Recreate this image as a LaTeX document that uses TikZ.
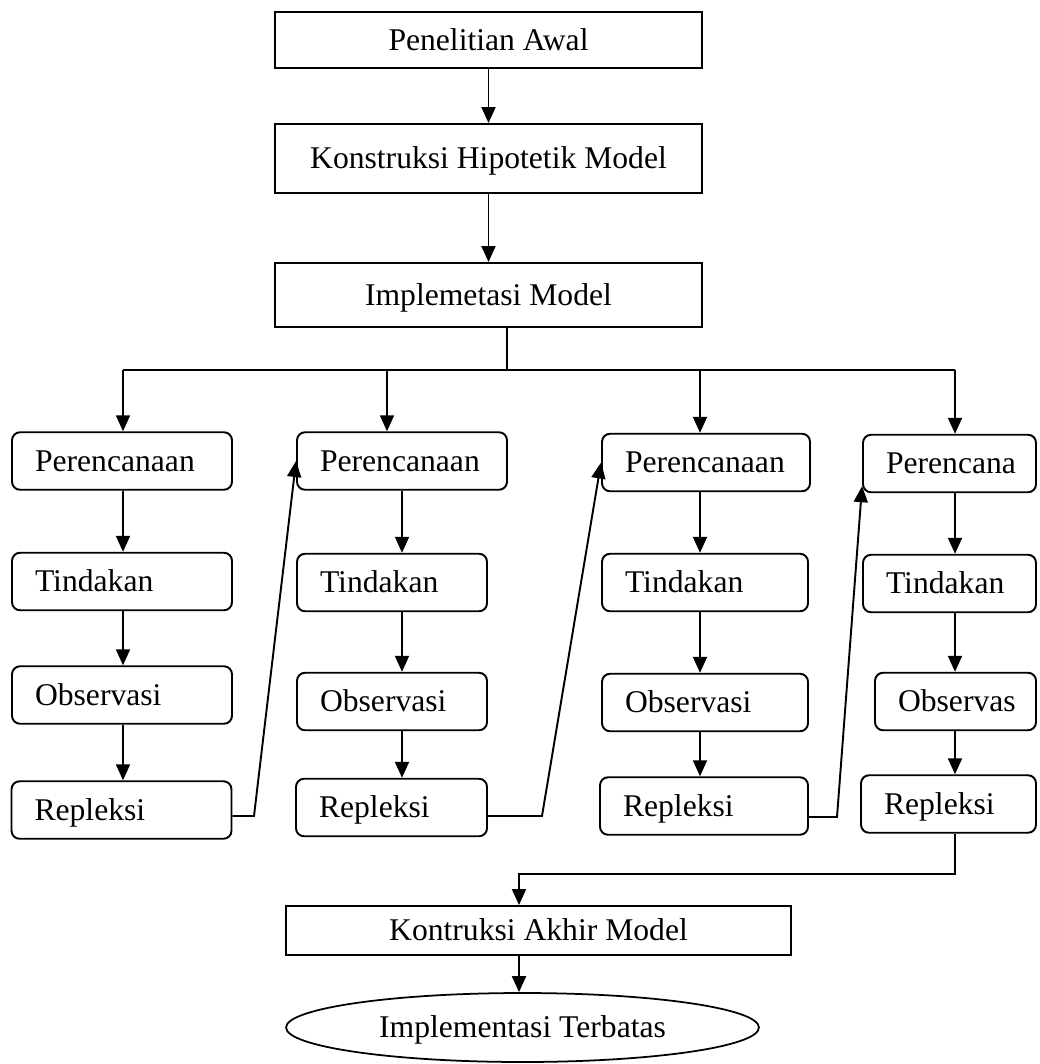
\documentclass[tikz,border=0pt]{standalone}
\usepackage{fontspec}
\setmainfont{Liberation Serif}
\usetikzlibrary{arrows.meta, shapes.geometric}
\tikzset{
  mainbox/.style={rectangle, draw, line width=1.1pt, minimum width=8.54cm,
    align=center, inner sep=0pt, text height=11.9pt, text depth=0pt,
    font=\fontsize{18}{21}\selectfont},
  stage/.style={rectangle, rounded corners=1.6mm, draw, line width=1.1pt,
    minimum height=1.15cm, text width=#1, inner xsep=0.46cm, inner ysep=0pt,
    align=left, text height=11.9pt, text depth=0pt,
    font=\fontsize{18}{21}\selectfont},
  endshape/.style={ellipse, draw, line width=1pt, minimum width=9.46cm,
    minimum height=1.38cm, inner sep=0pt, text height=11.9pt, text depth=0pt,
    font=\fontsize{18}{21}\selectfont},
  connector/.style={line width=1.1pt},
  arrowline/.style={connector, -{Triangle[length=3.2mm, width=2.8mm]}},
}
\begin{document}
\begin{tikzpicture}[x=0.02cm, y=-0.02cm]
  \useasboundingbox (0,0) rectangle (1039,1064);
  % ---------------- tahap awal ----------------
  \node[mainbox, minimum height=1.12cm] (awal) at (488.5,40) {Penelitian Awal};
  \node[mainbox, minimum height=1.38cm] (hipotetik) at (488.5,158.5)
    {Konstruksi Hipotetik Model};
  \node[mainbox, minimum height=1.28cm] (implementasi) at (488.5,295)
    {Implemetasi Model};
  \draw[arrowline] (awal) -- (hipotetik);
  \draw[arrowline] (hipotetik) -- (implementasi);
  % ---------------- siklus 1 ----------------
  \node[stage=3.48cm] (p1) at (122,461) {Perencanaan};
  \node[stage=3.48cm] (t1) at (122,581.5) {Tindakan};
  \node[stage=3.48cm] (o1) at (122,695) {Observasi};
  \node[stage=3.48cm] (r1) at (121.5,810) {Repleksi};
  % ---------------- siklus 2 ----------------
  \node[stage=3.28cm] (p2) at (402,461) {Perencanaan};
  \node[stage=2.88cm] (t2) at (392,582.5) {Tindakan};
  \node[stage=2.88cm] (o2) at (392,701.5) {Observasi};
  \node[stage=2.90cm] (r2) at (391.5,807.5) {Repleksi};
  % ---------------- siklus 3 ----------------
  \node[stage=3.24cm] (p3) at (706,462.5) {Perencanaan};
  \node[stage=3.20cm] (t3) at (705,582.5) {Tindakan};
  \node[stage=3.20cm] (o3) at (705,702.5) {Observasi};
  \node[stage=3.24cm] (r3) at (704,806) {Repleksi};
  % ---------------- siklus 4 ----------------
  \node[stage=2.54cm] (p4) at (949.5,463.5) {Perencana};
  \node[stage=2.54cm] (t4) at (949.5,583.5) {Tindakan};
  \node[stage=2.30cm] (o4) at (955.5,701.5) {Observas};
  \node[stage=2.58cm] (r4) at (948.5,804) {Repleksi};
  % ---------------- tahap akhir ----------------
  \node[mainbox, minimum width=10.1cm, minimum height=0.98cm] (akhir)
    at (538.5,930.5) {Kontruksi Akhir Model};
  \node[endshape] (terbatas) at (522.5,1027.5) {Implementasi Terbatas};
  % spines and branch points
  \coordinate (s1) at (123,0);
  \coordinate (s2) at (402,0);
  \coordinate (s3) at (700,0);
  \coordinate (s4) at (955,0);
  \coordinate (split) at (507,370);
  \coordinate (b1) at (123,370);
  \coordinate (b2) at (387,370);
  \coordinate (b3) at (700,370);
  \coordinate (b4) at (955,370);
  \draw[connector] (split |- implementasi.south) -- (split);
  \draw[connector] (b1) -- (b4);
  \foreach \k in {1,...,4}
    \draw[arrowline] (b\k) -- (b\k |- p\k.north);
  % cycle steps
  \foreach \k in {1,...,4} {
    \draw[arrowline] (s\k |- p\k.south) -- (s\k |- t\k.north);
    \draw[arrowline] (s\k |- t\k.south) -- (s\k |- o\k.north);
    \draw[arrowline] (s\k |- o\k.south) -- (s\k |- r\k.north);
  }
  % feedback to next cycle
  \coordinate (k1) at (254,816);
  \coordinate (k2) at (542,816);
  \coordinate (k3) at (837,817);
  \draw[arrowline] (r1.east |- k1) -- (k1) -- (p2.west);
  \draw[arrowline] (r2.east |- k2) -- (k2) -- (p3.west);
  \draw[arrowline] (r3.east |- k3) -- (k3) -- ([yshift=0.14cm]p4.south west);
  % closing
  \coordinate (join) at (519,874);
  \draw[arrowline] (s4 |- r4.south) -- (s4 |- join) -- (join)
    -- (join |- akhir.north);
  \draw[arrowline] (join |- akhir.south) -- (join |- terbatas.north);
\end{tikzpicture}
\end{document}
